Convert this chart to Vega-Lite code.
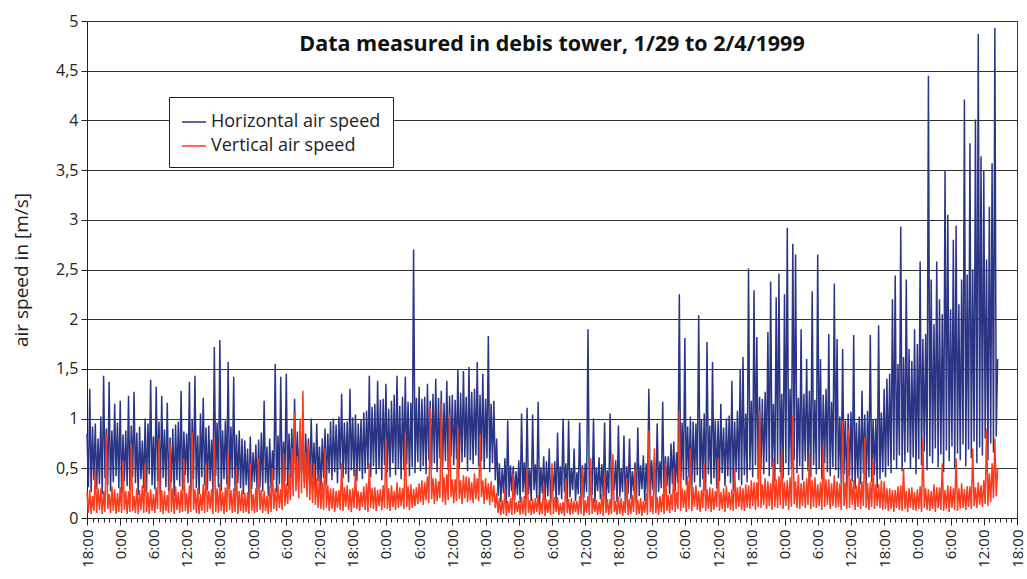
{
"$schema": "https://vega.github.io/schema/vega-lite/v6.json",
"width": 930,
"height": 497,
"autosize": {"type": "none"},
"padding": {"left": 87, "top": 21, "right": 10, "bottom": 61},
"background": "white",
"title": {"text": "Data measured in debis tower, 1/29 to 2/4/1999", "font": "Open Sans", "fontSize": 21.5, "fontWeight": "bold", "color": "#111", "anchor": "middle", "frame": "group", "baseline": "alphabetic", "offset": -59},
"config": {"view": {"stroke": "#333", "strokeWidth": 1}},
"data": {"values": [
{"t":0,"h":0.85,"v":0.26},{"t":0.25,"h":0.31,"v":0.05},{"t":0.5,"h":1.30,"v":0.28},{"t":0.75,"h":0.26,"v":0.04},{"t":1,"h":0.92,"v":0.22},{"t":1.25,"h":0.38,"v":0.07},{"t":1.5,"h":0.95,"v":0.50},{"t":1.75,"h":0.29,"v":0.05},{"t":2,"h":0.80,"v":0.30},{"t":2.25,"h":0.34,"v":0.08},{"t":2.5,"h":1.02,"v":0.30},{"t":2.75,"h":0.24,"v":0.04},{"t":3,"h":1.43,"v":0.27},{"t":3.25,"h":0.40,"v":0.06},{"t":3.5,"h":0.90,"v":0.85},{"t":3.75,"h":0.33,"v":0.09},{"t":4,"h":1.37,"v":0.24},{"t":4.25,"h":0.27,"v":0.05},{"t":4.5,"h":0.88,"v":0.32},{"t":4.75,"h":0.36,"v":0.07},{"t":5,"h":1.15,"v":0.29},{"t":5.25,"h":0.42,"v":0.04},{"t":5.5,"h":0.96,"v":0.25},{"t":5.75,"h":0.30,"v":0.06},{"t":6,"h":1.18,"v":0.31},{"t":6.25,"h":0.25,"v":0.05},{"t":6.5,"h":0.84,"v":0.58},{"t":6.75,"h":0.37,"v":0.08},{"t":7,"h":0.88,"v":0.27},{"t":7.25,"h":0.32,"v":0.04},{"t":7.5,"h":1.23,"v":0.27},{"t":7.75,"h":0.28,"v":0.06},{"t":8,"h":0.93,"v":0.75},{"t":8.25,"h":0.41,"v":0.07},{"t":8.5,"h":1.27,"v":0.22},{"t":8.75,"h":0.35,"v":0.05},{"t":9,"h":0.86,"v":0.30},{"t":9.25,"h":0.23,"v":0.04},{"t":9.5,"h":0.92,"v":0.28},{"t":9.75,"h":0.39,"v":0.08},{"t":10,"h":0.78,"v":0.33},{"t":10.25,"h":0.30,"v":0.05},{"t":10.5,"h":1.00,"v":0.55},{"t":10.75,"h":0.26,"v":0.06},{"t":11,"h":0.95,"v":0.26},{"t":11.25,"h":0.44,"v":0.04},{"t":11.5,"h":1.39,"v":0.29},{"t":11.75,"h":0.33,"v":0.07},{"t":12,"h":0.82,"v":0.24},{"t":12.25,"h":0.29,"v":0.05},{"t":12.5,"h":1.32,"v":0.31},{"t":12.75,"h":0.37,"v":0.09},{"t":13,"h":0.97,"v":0.80},{"t":13.25,"h":0.24,"v":0.06},{"t":13.5,"h":1.23,"v":0.28},{"t":13.75,"h":0.40,"v":0.04},{"t":14,"h":0.89,"v":0.27},{"t":14.25,"h":0.31,"v":0.07},{"t":14.5,"h":1.16,"v":0.23},{"t":14.75,"h":0.27,"v":0.05},{"t":15,"h":0.81,"v":0.75},{"t":15.25,"h":0.36,"v":0.06},{"t":15.5,"h":0.90,"v":0.30},{"t":15.75,"h":0.22,"v":0.04},{"t":16,"h":0.94,"v":0.32},{"t":16.25,"h":0.38,"v":0.08},{"t":16.5,"h":0.97,"v":0.26},{"t":16.75,"h":0.32,"v":0.05},{"t":17,"h":1.28,"v":0.28},{"t":17.25,"h":0.28,"v":0.06},{"t":17.5,"h":0.87,"v":0.60},{"t":17.75,"h":0.43,"v":0.07},{"t":18,"h":0.85,"v":0.25},{"t":18.25,"h":0.35,"v":0.04},{"t":18.5,"h":1.37,"v":0.33},{"t":18.75,"h":0.26,"v":0.06},{"t":19,"h":0.99,"v":0.86},{"t":19.25,"h":0.39,"v":0.08},{"t":19.5,"h":1.43,"v":0.29},{"t":19.75,"h":0.30,"v":0.05},{"t":20,"h":0.83,"v":0.30},{"t":20.25,"h":0.24,"v":0.04},{"t":20.5,"h":1.05,"v":0.24},{"t":20.75,"h":0.41,"v":0.07},{"t":21,"h":1.21,"v":0.34},{"t":21.25,"h":0.33,"v":0.05},{"t":21.5,"h":0.91,"v":0.55},{"t":21.75,"h":0.28,"v":0.06},{"t":22,"h":0.93,"v":0.27},{"t":22.25,"h":0.37,"v":0.09},{"t":22.5,"h":0.79,"v":0.29},{"t":22.75,"h":0.25,"v":0.04},{"t":23,"h":1.72,"v":0.80},{"t":23.25,"h":0.42,"v":0.06},{"t":23.5,"h":0.96,"v":0.30},{"t":23.75,"h":0.31,"v":0.05},{"t":24,"h":1.79,"v":0.35},{"t":24.25,"h":0.27,"v":0.07},{"t":24.5,"h":0.88,"v":0.26},{"t":24.75,"h":0.39,"v":0.04},{"t":25,"h":0.98,"v":0.31},{"t":25.25,"h":0.34,"v":0.06},{"t":25.5,"h":1.57,"v":0.65},{"t":25.75,"h":0.29,"v":0.08},{"t":26,"h":0.92,"v":0.28},{"t":26.25,"h":0.40,"v":0.05},{"t":26.5,"h":1.42,"v":0.30},{"t":26.75,"h":0.26,"v":0.06},{"t":27,"h":0.84,"v":0.50},{"t":27.25,"h":0.35,"v":0.04},{"t":27.5,"h":0.88,"v":0.27},{"t":27.75,"h":0.30,"v":0.07},{"t":28,"h":0.80,"v":0.28},{"t":28.25,"h":0.24,"v":0.05},
{"t":28.5,"h":0.78,"v":0.25},{"t":28.75,"h":0.33,"v":0.06},{"t":29,"h":0.70,"v":0.26},{"t":29.25,"h":0.21,"v":0.04},{"t":29.5,"h":0.82,"v":0.55},{"t":29.75,"h":0.29,"v":0.07},{"t":30,"h":0.66,"v":0.24},{"t":30.25,"h":0.36,"v":0.05},{"t":30.5,"h":0.74,"v":0.30},{"t":30.75,"h":0.23,"v":0.06},{"t":31,"h":0.79,"v":0.60},{"t":31.25,"h":0.31,"v":0.08},{"t":31.5,"h":0.86,"v":0.28},{"t":31.75,"h":0.27,"v":0.05},{"t":32,"h":1.18,"v":0.27},{"t":32.25,"h":0.35,"v":0.07},{"t":32.5,"h":0.72,"v":0.22},{"t":32.75,"h":0.22,"v":0.04},{"t":33,"h":0.80,"v":0.32},{"t":33.25,"h":0.30,"v":0.06},{"t":33.5,"h":0.68,"v":0.50},{"t":33.75,"h":0.38,"v":0.09},{"t":34,"h":1.55,"v":0.30},{"t":34.25,"h":0.26,"v":0.07},{"t":34.5,"h":0.83,"v":0.34},{"t":34.75,"h":0.34,"v":0.10},{"t":35,"h":1.42,"v":0.29},{"t":35.25,"h":0.29,"v":0.08},{"t":35.5,"h":0.77,"v":0.65},{"t":35.75,"h":0.37,"v":0.12},{"t":36,"h":1.45,"v":0.35},{"t":36.25,"h":0.32,"v":0.14},{"t":36.5,"h":0.85,"v":0.45},{"t":36.75,"h":0.40,"v":0.18},{"t":37,"h":0.90,"v":0.70},{"t":37.25,"h":0.35,"v":0.22},{"t":37.5,"h":1.20,"v":1.05},{"t":37.75,"h":0.42,"v":0.27},{"t":38,"h":0.87,"v":0.62},{"t":38.25,"h":0.38,"v":0.20},{"t":38.5,"h":0.88,"v":1.00},{"t":38.75,"h":0.44,"v":0.25},{"t":39,"h":0.82,"v":1.28},{"t":39.25,"h":0.36,"v":0.30},{"t":39.5,"h":0.85,"v":0.66},{"t":39.75,"h":0.41,"v":0.21},{"t":40,"h":0.80,"v":0.75},{"t":40.25,"h":0.34,"v":0.18},{"t":40.5,"h":1.00,"v":0.55},{"t":40.75,"h":0.39,"v":0.15},{"t":41,"h":0.76,"v":0.55},{"t":41.25,"h":0.31,"v":0.13},{"t":41.5,"h":0.95,"v":0.40},{"t":41.75,"h":0.37,"v":0.10},{"t":42,"h":0.72,"v":0.45},{"t":42.25,"h":0.28,"v":0.09},{"t":42.5,"h":0.80,"v":0.36},{"t":42.75,"h":0.40,"v":0.08},{"t":43,"h":0.90,"v":0.70},{"t":43.25,"h":0.33,"v":0.10},{"t":43.5,"h":0.85,"v":0.33},{"t":43.75,"h":0.45,"v":0.07},
{"t":44,"h":0.97,"v":0.30},{"t":44.25,"h":0.38,"v":0.09},{"t":44.5,"h":1.00,"v":0.30},{"t":44.75,"h":0.46,"v":0.06},{"t":45,"h":0.94,"v":0.27},{"t":45.25,"h":0.35,"v":0.10},{"t":45.5,"h":1.02,"v":0.28},{"t":45.75,"h":0.49,"v":0.08},{"t":46,"h":1.25,"v":0.55},{"t":46.25,"h":0.40,"v":0.07},{"t":46.5,"h":0.96,"v":0.31},{"t":46.75,"h":0.44,"v":0.11},{"t":47,"h":0.97,"v":0.33},{"t":47.25,"h":0.36,"v":0.08},{"t":47.5,"h":1.30,"v":0.29},{"t":47.75,"h":0.48,"v":0.06},{"t":48,"h":1.01,"v":0.30},{"t":48.25,"h":0.42,"v":0.10},{"t":48.5,"h":1.04,"v":0.50},{"t":48.75,"h":0.37,"v":0.09},{"t":49,"h":0.95,"v":0.27},{"t":49.25,"h":0.47,"v":0.07},{"t":49.5,"h":0.99,"v":0.26},{"t":49.75,"h":0.39,"v":0.11},{"t":50,"h":1.06,"v":0.32},{"t":50.25,"h":0.45,"v":0.08},{"t":50.5,"h":1.08,"v":0.35},{"t":50.75,"h":0.50,"v":0.06},{"t":51,"h":1.43,"v":0.55},{"t":51.25,"h":0.41,"v":0.10},{"t":51.5,"h":1.12,"v":0.30},{"t":51.75,"h":0.52,"v":0.09},{"t":52,"h":1.15,"v":0.31},{"t":52.25,"h":0.44,"v":0.07},{"t":52.5,"h":1.38,"v":0.28},{"t":52.75,"h":0.49,"v":0.12},{"t":53,"h":1.19,"v":0.29},{"t":53.25,"h":0.38,"v":0.08},{"t":53.5,"h":1.20,"v":0.33},{"t":53.75,"h":0.53,"v":0.10},{"t":54,"h":1.35,"v":0.80},{"t":54.25,"h":0.46,"v":0.09},{"t":54.5,"h":1.10,"v":0.30},{"t":54.75,"h":0.41,"v":0.07},{"t":55,"h":1.18,"v":0.33},{"t":55.25,"h":0.55,"v":0.11},{"t":55.5,"h":1.24,"v":0.27},{"t":55.75,"h":0.43,"v":0.08},{"t":56,"h":1.43,"v":0.36},{"t":56.25,"h":0.50,"v":0.10},{"t":56.5,"h":1.13,"v":0.31},{"t":56.75,"h":0.39,"v":0.12},{"t":57,"h":1.22,"v":0.30},{"t":57.25,"h":0.48,"v":0.09},{"t":57.5,"h":1.42,"v":0.85},{"t":57.75,"h":0.54,"v":0.11},{"t":58,"h":1.17,"v":0.32},{"t":58.25,"h":0.42,"v":0.08},{"t":58.5,"h":1.16,"v":0.34},{"t":58.75,"h":0.51,"v":0.10},{"t":59,"h":2.70,"v":0.29},{"t":59.25,"h":0.45,"v":0.12},{"t":59.5,"h":1.21,"v":0.31},{"t":59.75,"h":0.56,"v":0.14},{"t":60,"h":1.32,"v":0.35},{"t":60.25,"h":0.47,"v":0.16},
{"t":60.5,"h":1.20,"v":0.38},{"t":60.75,"h":0.52,"v":0.13},{"t":61,"h":1.22,"v":0.36},{"t":61.25,"h":0.44,"v":0.18},{"t":61.5,"h":1.35,"v":0.42},{"t":61.75,"h":0.58,"v":0.15},{"t":62,"h":1.18,"v":1.11},{"t":62.25,"h":0.49,"v":0.19},{"t":62.5,"h":1.25,"v":0.40},{"t":62.75,"h":0.55,"v":0.14},{"t":63,"h":1.40,"v":0.40},{"t":63.25,"h":0.46,"v":0.17},{"t":63.5,"h":1.21,"v":0.37},{"t":63.75,"h":0.60,"v":0.20},{"t":64,"h":1.28,"v":1.15},{"t":64.25,"h":0.51,"v":0.16},{"t":64.5,"h":1.16,"v":0.41},{"t":64.75,"h":0.57,"v":0.13},{"t":65,"h":1.38,"v":0.44},{"t":65.25,"h":0.48,"v":0.18},{"t":65.5,"h":1.23,"v":1.05},{"t":65.75,"h":0.62,"v":0.21},{"t":66,"h":1.24,"v":0.39},{"t":66.25,"h":0.53,"v":0.15},{"t":66.5,"h":1.19,"v":0.39},{"t":66.75,"h":0.59,"v":0.17},{"t":67,"h":1.50,"v":0.90},{"t":67.25,"h":0.50,"v":0.19},{"t":67.5,"h":1.26,"v":0.38},{"t":67.75,"h":0.56,"v":0.14},{"t":68,"h":1.48,"v":0.43},{"t":68.25,"h":0.61,"v":0.20},{"t":68.5,"h":1.22,"v":0.42},{"t":68.75,"h":0.47,"v":0.16},{"t":69,"h":1.52,"v":0.41},{"t":69.25,"h":0.58,"v":0.18},{"t":69.5,"h":1.27,"v":0.36},{"t":69.75,"h":0.54,"v":0.15},{"t":70,"h":1.30,"v":0.45},{"t":70.25,"h":0.63,"v":0.19},{"t":70.5,"h":1.57,"v":0.40},{"t":70.75,"h":0.52,"v":0.17},{"t":71,"h":1.24,"v":0.85},{"t":71.25,"h":0.57,"v":0.21},{"t":71.5,"h":1.45,"v":0.38},{"t":71.75,"h":0.49,"v":0.14},{"t":72,"h":1.20,"v":0.40},{"t":72.25,"h":0.60,"v":0.18},{"t":72.5,"h":1.83,"v":0.35},{"t":72.75,"h":0.46,"v":0.13},{"t":73,"h":1.15,"v":0.37},{"t":73.25,"h":0.55,"v":0.16},{"t":73.5,"h":1.18,"v":0.33},{"t":73.75,"h":0.38,"v":0.10},
{"t":74,"h":0.80,"v":0.25},{"t":74.25,"h":0.22,"v":0.05},{"t":74.5,"h":0.55,"v":0.20},{"t":74.75,"h":0.16,"v":0.03},{"t":75,"h":0.50,"v":0.18},{"t":75.25,"h":0.25,"v":0.04},{"t":75.5,"h":0.60,"v":0.30},{"t":75.75,"h":0.14,"v":0.02},{"t":76,"h":0.98,"v":0.17},{"t":76.25,"h":0.21,"v":0.05},{"t":76.5,"h":0.53,"v":0.20},{"t":76.75,"h":0.27,"v":0.03},{"t":77,"h":0.52,"v":0.45},{"t":77.25,"h":0.18,"v":0.04},{"t":77.5,"h":0.47,"v":0.16},{"t":77.75,"h":0.23,"v":0.06},{"t":78,"h":0.58,"v":0.17},{"t":78.25,"h":0.15,"v":0.03},{"t":78.5,"h":1.05,"v":0.21},{"t":78.75,"h":0.26,"v":0.04},{"t":79,"h":0.56,"v":0.22},{"t":79.25,"h":0.19,"v":0.02},{"t":79.5,"h":1.11,"v":0.50},{"t":79.75,"h":0.24,"v":0.05},{"t":80,"h":0.49,"v":0.18},{"t":80.25,"h":0.17,"v":0.03},{"t":80.5,"h":1.04,"v":0.19},{"t":80.75,"h":0.28,"v":0.04},{"t":81,"h":0.54,"v":0.20},{"t":81.25,"h":0.20,"v":0.06},{"t":81.5,"h":1.17,"v":0.23},{"t":81.75,"h":0.13,"v":0.03},{"t":82,"h":0.51,"v":0.16},{"t":82.25,"h":0.25,"v":0.04},{"t":82.5,"h":0.62,"v":0.35},{"t":82.75,"h":0.18,"v":0.02},{"t":83,"h":0.57,"v":0.19},{"t":83.25,"h":0.22,"v":0.05},{"t":83.5,"h":0.70,"v":0.18},{"t":83.75,"h":0.16,"v":0.03},{"t":84,"h":0.48,"v":0.55},{"t":84.25,"h":0.27,"v":0.04},{"t":84.5,"h":0.57,"v":0.21},{"t":84.75,"h":0.14,"v":0.06},{"t":85,"h":0.86,"v":0.21},{"t":85.25,"h":0.23,"v":0.03},{"t":85.5,"h":0.52,"v":0.15},{"t":85.75,"h":0.19,"v":0.04},{"t":86,"h":1.00,"v":0.16},{"t":86.25,"h":0.26,"v":0.02},{"t":86.5,"h":0.55,"v":0.40},{"t":86.75,"h":0.15,"v":0.05},{"t":87,"h":0.98,"v":0.19},{"t":87.25,"h":0.21,"v":0.03},{"t":87.5,"h":0.50,"v":0.20},{"t":87.75,"h":0.28,"v":0.04},{"t":88,"h":0.70,"v":0.17},{"t":88.25,"h":0.17,"v":0.06},{"t":88.5,"h":0.46,"v":0.17},{"t":88.75,"h":0.24,"v":0.03},{"t":89,"h":0.96,"v":0.22},{"t":89.25,"h":0.13,"v":0.04},{"t":89.5,"h":0.53,"v":0.50},{"t":89.75,"h":0.20,"v":0.02},{"t":90,"h":0.55,"v":0.18},{"t":90.25,"h":0.26,"v":0.05},{"t":90.5,"h":1.90,"v":0.22},{"t":90.75,"h":0.18,"v":0.03},{"t":91,"h":0.49,"v":0.60},{"t":91.25,"h":0.23,"v":0.04},{"t":91.5,"h":1.00,"v":0.20},{"t":91.75,"h":0.15,"v":0.06},{"t":92,"h":0.51,"v":0.18},{"t":92.25,"h":0.27,"v":0.03},{"t":92.5,"h":0.61,"v":0.16},{"t":92.75,"h":0.19,"v":0.04},{"t":93,"h":0.54,"v":0.24},{"t":93.25,"h":0.22,"v":0.02},{"t":93.5,"h":0.96,"v":0.45},{"t":93.75,"h":0.14,"v":0.05},{"t":94,"h":0.48,"v":0.19},{"t":94.25,"h":0.25,"v":0.03},{"t":94.5,"h":1.05,"v":0.19},{"t":94.75,"h":0.18,"v":0.04},{"t":95,"h":0.56,"v":0.64},{"t":95.25,"h":0.28,"v":0.06},{"t":95.5,"h":0.58,"v":0.17},{"t":95.75,"h":0.16,"v":0.03},{"t":96,"h":0.93,"v":0.21},{"t":96.25,"h":0.21,"v":0.04},{"t":96.5,"h":0.50,"v":0.20},{"t":96.75,"h":0.26,"v":0.02},{"t":97,"h":0.83,"v":0.17},{"t":97.25,"h":0.13,"v":0.05},{"t":97.5,"h":0.52,"v":0.40},{"t":97.75,"h":0.24,"v":0.03},{"t":98,"h":0.80,"v":0.19},{"t":98.25,"h":0.19,"v":0.04},{"t":98.5,"h":0.47,"v":0.23},{"t":98.75,"h":0.27,"v":0.06},{"t":99,"h":0.56,"v":0.50},{"t":99.25,"h":0.15,"v":0.03},{"t":99.5,"h":0.91,"v":0.18},{"t":99.75,"h":0.22,"v":0.04},{"t":100,"h":0.53,"v":0.20},{"t":100.25,"h":0.29,"v":0.02},{"t":100.5,"h":0.63,"v":0.17},{"t":100.75,"h":0.17,"v":0.05},{"t":101,"h":0.55,"v":0.25},{"t":101.25,"h":0.25,"v":0.03},{"t":101.5,"h":1.30,"v":0.88},{"t":101.75,"h":0.20,"v":0.06},{"t":102,"h":0.58,"v":0.22},{"t":102.25,"h":0.28,"v":0.04},{"t":102.5,"h":0.60,"v":0.70},{"t":102.75,"h":0.16,"v":0.05},{"t":103,"h":0.95,"v":0.21},{"t":103.25,"h":0.26,"v":0.03},{"t":103.5,"h":0.57,"v":0.22},{"t":103.75,"h":0.30,"v":0.06},{"t":104,"h":1.17,"v":0.24},{"t":104.25,"h":0.21,"v":0.04},{"t":104.5,"h":0.62,"v":0.55},{"t":104.75,"h":0.32,"v":0.07},{"t":105,"h":0.62,"v":0.23},{"t":105.25,"h":0.24,"v":0.05},{"t":105.5,"h":0.75,"v":0.24},{"t":105.75,"h":0.34,"v":0.08},{"t":106,"h":0.77,"v":0.50},{"t":106.25,"h":0.27,"v":0.06},{"t":106.5,"h":0.66,"v":0.26},{"t":106.75,"h":0.35,"v":0.09},
{"t":107,"h":2.25,"v":1.08},{"t":107.25,"h":0.30,"v":0.07},{"t":107.5,"h":0.96,"v":0.30},{"t":107.75,"h":0.38,"v":0.10},{"t":108,"h":1.81,"v":0.28},{"t":108.25,"h":0.33,"v":0.06},{"t":108.5,"h":0.92,"v":0.42},{"t":108.75,"h":0.41,"v":0.09},{"t":109,"h":1.02,"v":0.70},{"t":109.25,"h":0.29,"v":0.07},{"t":109.5,"h":0.97,"v":0.31},{"t":109.75,"h":0.36,"v":0.11},{"t":110,"h":0.95,"v":0.33},{"t":110.25,"h":0.43,"v":0.08},{"t":110.5,"h":2.04,"v":0.27},{"t":110.75,"h":0.31,"v":0.06},{"t":111,"h":0.99,"v":0.28},{"t":111.25,"h":0.39,"v":0.10},{"t":111.5,"h":1.05,"v":0.55},{"t":111.75,"h":0.27,"v":0.07},{"t":112,"h":1.77,"v":0.29},{"t":112.25,"h":0.44,"v":0.09},{"t":112.5,"h":0.93,"v":0.31},{"t":112.75,"h":0.34,"v":0.06},{"t":113,"h":1.57,"v":0.30},{"t":113.25,"h":0.40,"v":0.08},{"t":113.5,"h":0.98,"v":0.27},{"t":113.75,"h":0.30,"v":0.11},{"t":114,"h":0.98,"v":0.60},{"t":114.25,"h":0.37,"v":0.07},{"t":114.5,"h":1.15,"v":0.26},{"t":114.75,"h":0.45,"v":0.09},{"t":115,"h":0.91,"v":0.30},{"t":115.25,"h":0.32,"v":0.06},{"t":115.5,"h":1.00,"v":0.32},{"t":115.75,"h":0.42,"v":0.10},{"t":116,"h":1.03,"v":0.26},{"t":116.25,"h":0.35,"v":0.08},{"t":116.5,"h":1.38,"v":0.29},{"t":116.75,"h":0.28,"v":0.07},{"t":117,"h":0.97,"v":0.50},{"t":117.25,"h":0.46,"v":0.09},{"t":117.5,"h":1.08,"v":0.31},{"t":117.75,"h":0.38,"v":0.11},{"t":118,"h":1.50,"v":0.32},{"t":118.25,"h":0.33,"v":0.08},{"t":118.5,"h":1.62,"v":0.30},{"t":118.75,"h":0.43,"v":0.07},{"t":119,"h":1.05,"v":0.34},{"t":119.25,"h":0.36,"v":0.10},
{"t":119.5,"h":2.51,"v":0.33},{"t":119.75,"h":0.48,"v":0.09},{"t":120,"h":1.18,"v":0.38},{"t":120.25,"h":0.41,"v":0.12},{"t":120.5,"h":2.29,"v":0.36},{"t":120.75,"h":0.53,"v":0.08},{"t":121,"h":1.82,"v":0.36},{"t":121.25,"h":0.39,"v":0.11},{"t":121.5,"h":1.22,"v":1.08},{"t":121.75,"h":0.50,"v":0.10},{"t":122,"h":1.20,"v":0.34},{"t":122.25,"h":0.44,"v":0.13},{"t":122.5,"h":1.27,"v":0.40},{"t":122.75,"h":0.56,"v":0.09},{"t":123,"h":1.87,"v":0.37},{"t":123.25,"h":0.42,"v":0.12},{"t":123.5,"h":2.38,"v":0.35},{"t":123.75,"h":0.51,"v":0.08},{"t":124,"h":1.15,"v":0.60},{"t":124.25,"h":0.37,"v":0.11},{"t":124.5,"h":2.22,"v":0.39},{"t":124.75,"h":0.54,"v":0.10},{"t":125,"h":2.46,"v":0.42},{"t":125.25,"h":0.46,"v":0.13},{"t":125.5,"h":1.25,"v":0.70},{"t":125.75,"h":0.40,"v":0.09},{"t":126,"h":2.25,"v":0.36},{"t":126.25,"h":0.55,"v":0.12},{"t":126.5,"h":2.92,"v":0.38},{"t":126.75,"h":0.43,"v":0.08},{"t":127,"h":1.30,"v":0.41},{"t":127.25,"h":0.49,"v":0.11},{"t":127.5,"h":2.76,"v":1.03},{"t":127.75,"h":0.58,"v":0.14},{"t":128,"h":2.65,"v":0.37},{"t":128.25,"h":0.45,"v":0.10},{"t":128.5,"h":1.21,"v":0.44},{"t":128.75,"h":0.52,"v":0.09},{"t":129,"h":1.90,"v":0.35},{"t":129.25,"h":0.38,"v":0.12},{"t":129.5,"h":1.25,"v":0.37},{"t":129.75,"h":0.57,"v":0.10},{"t":130,"h":1.60,"v":0.40},{"t":130.25,"h":0.47,"v":0.13},{"t":130.5,"h":1.28,"v":0.65},{"t":130.75,"h":0.41,"v":0.09},{"t":131,"h":2.28,"v":0.38},{"t":131.25,"h":0.53,"v":0.11},{"t":131.5,"h":1.19,"v":0.41},{"t":131.75,"h":0.44,"v":0.10},{"t":132,"h":2.65,"v":0.34},{"t":132.25,"h":0.50,"v":0.12},{"t":132.5,"h":1.60,"v":0.36},{"t":132.75,"h":0.39,"v":0.08},{"t":133,"h":1.24,"v":0.75},{"t":133.25,"h":0.55,"v":0.11},{"t":133.5,"h":1.30,"v":0.39},{"t":133.75,"h":0.46,"v":0.13},{"t":134,"h":1.85,"v":0.39},{"t":134.25,"h":0.42,"v":0.09},{"t":134.5,"h":1.17,"v":0.35},{"t":134.75,"h":0.51,"v":0.12},{"t":135,"h":2.36,"v":0.43},{"t":135.25,"h":0.48,"v":0.10},{"t":135.5,"h":1.80,"v":0.37},{"t":135.75,"h":0.40,"v":0.11},{"t":136,"h":1.02,"v":0.35},{"t":136.25,"h":0.35,"v":0.08},{"t":136.5,"h":1.70,"v":0.98},{"t":136.75,"h":0.44,"v":0.12},{"t":137,"h":0.98,"v":0.36},{"t":137.25,"h":0.31,"v":0.09},{"t":137.5,"h":1.05,"v":0.90},{"t":137.75,"h":0.42,"v":0.10},{"t":138,"h":1.07,"v":0.40},{"t":138.25,"h":0.37,"v":0.13},{"t":138.5,"h":1.84,"v":0.38},{"t":138.75,"h":0.29,"v":0.08},{"t":139,"h":0.96,"v":0.33},{"t":139.25,"h":0.40,"v":0.11},{"t":139.5,"h":1.02,"v":0.41},{"t":139.75,"h":0.34,"v":0.09},{"t":140,"h":1.28,"v":0.37},{"t":140.25,"h":0.45,"v":0.12},{"t":140.5,"h":1.04,"v":0.81},{"t":140.75,"h":0.32,"v":0.10},{"t":141,"h":1.08,"v":0.35},{"t":141.25,"h":0.41,"v":0.08},{"t":141.5,"h":1.84,"v":0.36},{"t":141.75,"h":0.36,"v":0.11},{"t":142,"h":0.99,"v":0.60},{"t":142.25,"h":0.43,"v":0.09},{"t":142.5,"h":1.00,"v":0.34},{"t":142.75,"h":0.30,"v":0.12},{"t":143,"h":1.94,"v":0.34},{"t":143.25,"h":0.39,"v":0.10},{"t":143.5,"h":1.06,"v":0.38},{"t":143.75,"h":0.46,"v":0.08},{"t":144,"h":1.30,"v":0.37},{"t":144.25,"h":0.41,"v":0.09},
{"t":144.5,"h":1.40,"v":0.30},{"t":144.75,"h":0.52,"v":0.07},{"t":145,"h":1.45,"v":0.30},{"t":145.25,"h":0.45,"v":0.09},{"t":145.5,"h":2.20,"v":0.28},{"t":145.75,"h":0.58,"v":0.06},{"t":146,"h":2.44,"v":0.28},{"t":146.25,"h":0.49,"v":0.10},{"t":146.5,"h":1.55,"v":0.32},{"t":146.75,"h":0.63,"v":0.08},{"t":147,"h":2.93,"v":0.33},{"t":147.25,"h":0.47,"v":0.07},{"t":147.5,"h":1.62,"v":0.50},{"t":147.75,"h":0.56,"v":0.09},{"t":148,"h":2.40,"v":0.27},{"t":148.25,"h":0.66,"v":0.06},{"t":148.5,"h":1.70,"v":0.30},{"t":148.75,"h":0.50,"v":0.10},{"t":149,"h":1.58,"v":0.31},{"t":149.25,"h":0.61,"v":0.08},{"t":149.5,"h":1.90,"v":0.26},{"t":149.75,"h":0.44,"v":0.07},{"t":150,"h":1.75,"v":0.29},{"t":150.25,"h":0.59,"v":0.09},{"t":150.5,"h":2.58,"v":0.32},{"t":150.75,"h":0.53,"v":0.06},{"t":151,"h":1.80,"v":0.80},{"t":151.25,"h":0.67,"v":0.10},{"t":151.5,"h":1.85,"v":0.30},{"t":151.75,"h":0.48,"v":0.08},{"t":152,"h":4.45,"v":0.29},{"t":152.25,"h":0.62,"v":0.07},{"t":152.5,"h":2.40,"v":0.27},{"t":152.75,"h":0.55,"v":0.09},{"t":153,"h":1.95,"v":0.34},{"t":153.25,"h":0.70,"v":0.06},{"t":153.5,"h":2.58,"v":0.31},{"t":153.75,"h":0.51,"v":0.10},{"t":154,"h":2.20,"v":0.31},{"t":154.25,"h":0.64,"v":0.08},{"t":154.5,"h":2.05,"v":0.55},{"t":154.75,"h":0.46,"v":0.07},{"t":155,"h":3.49,"v":0.28},{"t":155.25,"h":0.68,"v":0.09},{"t":155.5,"h":3.05,"v":0.33},{"t":155.75,"h":0.57,"v":0.06},{"t":156,"h":2.10,"v":0.32},{"t":156.25,"h":0.72,"v":0.10},{"t":156.5,"h":2.80,"v":0.30},{"t":156.75,"h":0.49,"v":0.08},{"t":157,"h":2.94,"v":0.60},{"t":157.25,"h":0.65,"v":0.07},{"t":157.5,"h":2.15,"v":0.30},{"t":157.75,"h":0.58,"v":0.09},{"t":158,"h":2.40,"v":0.35},{"t":158.25,"h":0.74,"v":0.10},{"t":158.5,"h":4.21,"v":0.29},{"t":158.75,"h":0.52,"v":0.08},{"t":159,"h":2.45,"v":0.32},{"t":159.25,"h":0.69,"v":0.11},{"t":159.5,"h":3.77,"v":0.32},{"t":159.75,"h":0.60,"v":0.09},{"t":160,"h":2.50,"v":0.70},{"t":160.25,"h":0.77,"v":0.12},{"t":160.5,"h":4.01,"v":0.31},{"t":160.75,"h":0.55,"v":0.10},{"t":161,"h":4.87,"v":0.36},{"t":161.25,"h":0.71,"v":0.13},{"t":161.5,"h":3.64,"v":0.33},{"t":161.75,"h":0.63,"v":0.11},{"t":162,"h":3.50,"v":0.38},{"t":162.25,"h":0.80,"v":0.14},{"t":162.5,"h":2.60,"v":0.90},{"t":162.75,"h":0.58,"v":0.12},{"t":163,"h":3.13,"v":0.45},{"t":163.25,"h":0.75,"v":0.16},{"t":163.5,"h":3.57,"v":0.55},{"t":163.75,"h":0.66,"v":0.20},{"t":164,"h":4.93,"v":0.80},{"t":164.25,"h":0.82,"v":0.22},{"t":164.5,"h":1.60,"v":0.50}
]},
"encoding": {
  "x": {"field": "t", "type": "quantitative", "scale": {"domain": [0, 168], "nice": false, "zero": false},
    "axis": {"title": null, "grid": false, "tickCount": 168, "labelOverlap": false, "labelFlush": false, "labelAngle": -90,
      "labelExpr": "datum.value % 6 === 0 ? ((datum.value + 18) % 24) + ':00' : ''",
      "tickSize": {"condition": {"test": "datum.value % 6 === 0", "value": 7}, "value": 4},
      "labelPadding": 4, "labelFont": "Open Sans", "labelFontSize": 15, "labelColor": "#222",
      "domainColor": "#222", "tickColor": "#222"}}
},
"layer": [
  {"mark": {"type": "line", "strokeWidth": 1.5, "interpolate": "linear"},
   "encoding": {
     "y": {"field": "h", "type": "quantitative", "scale": {"domain": [0, 5], "nice": false},
       "axis": {"title": "air speed in [m/s]", "titleFont": "Open Sans", "titleFontSize": 19, "titleFontWeight": "normal", "titleColor": "#222", "titlePadding": 24,
         "tickCount": 10, "grid": true, "gridColor": "#333", "gridWidth": 1, "gridOpacity": 1,
         "labelExpr": "replace(format(datum.value, '.1~f'), '.', ',')",
         "labelFont": "Open Sans", "labelFontSize": 16, "labelColor": "#222", "labelPadding": 3,
         "tickSize": 6, "tickColor": "#222", "domainColor": "#222"}},
     "color": {"datum": "Horizontal air speed", "type": "nominal",
       "scale": {"domain": ["Horizontal air speed", "Vertical air speed"], "range": ["#2b3585", "#fa3c1e"]},
       "legend": {"title": null, "orient": "none", "legendX": 82, "legendY": 76, "fillColor": "white", "strokeColor": "#222", "padding": 12,
         "symbolType": "stroke", "symbolSize": 576, "symbolStrokeWidth": 1.5, "labelFont": "Open Sans", "labelFontSize": 18, "labelColor": "#222", "labelLimit": 0, "rowPadding": 2, "labelOffset": 4}}
   }},
  {"mark": {"type": "line", "strokeWidth": 1.5, "interpolate": "linear"},
   "encoding": {
     "y": {"field": "v", "type": "quantitative"},
     "color": {"datum": "Vertical air speed", "type": "nominal"}
   }}
]
}
